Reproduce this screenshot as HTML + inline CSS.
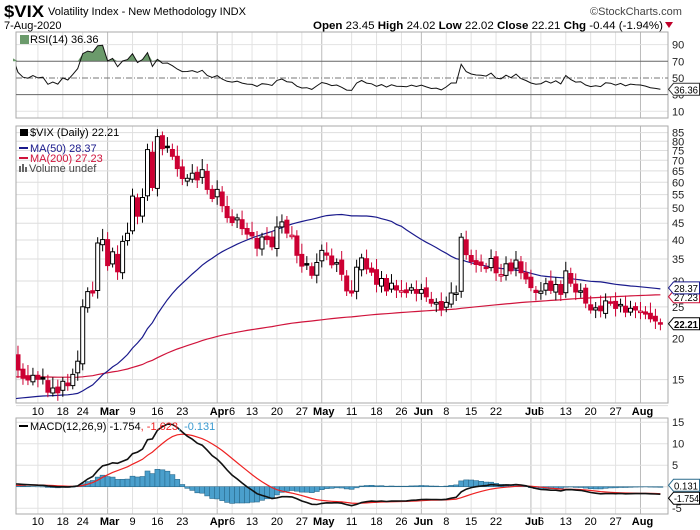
<!DOCTYPE html>
<html><head><meta charset="utf-8">
<style>
body{margin:0;background:#fff;}
svg{display:block;font-family:"Liberation Sans",Arial,sans-serif;}
</style></head>
<body>
<svg id="s" width="700" height="530" xmlns="http://www.w3.org/2000/svg">
<defs>
<clipPath id="cr"><rect x="16" y="32" width="652" height="86"/></clipPath>
<clipPath id="cm"><rect x="16" y="126" width="652" height="277"/></clipPath>
<clipPath id="cd"><rect x="16" y="418" width="652" height="96"/></clipPath>
</defs>
<text x="4" y="17" font-size="17" font-weight="bold" textLength="40" lengthAdjust="spacingAndGlyphs">$VIX</text>
<text x="48" y="15" font-size="11" textLength="198" lengthAdjust="spacingAndGlyphs">Volatility Index - New Methodology  INDX</text>
<text x="590" y="15" font-size="11" fill="#444">©StockCharts.com</text>
<text x="4" y="29" font-size="11">7-Aug-2020</text>
<text x="313" y="29" font-size="11" textLength="350" lengthAdjust="spacingAndGlyphs"><tspan font-weight="bold">Open</tspan> 23.45 <tspan font-weight="bold">High</tspan> 24.02 <tspan font-weight="bold">Low</tspan> 22.02 <tspan font-weight="bold">Close</tspan> 22.21 <tspan font-weight="bold">Chg</tspan> -0.44 (-1.94%)</text>
<path d="M665 22 L673 22 L669 28 Z" fill="#c0002a"/>
<g id="g"></g>
</svg>
<script>
var C=[17.97,16.05,15.15,14.96,15.47,15.04,15.18,13.74,14.15,13.68,14.83,14.38,15.56,17.08,25.03,27.85,27.56,39.16,40.11,
33.42,36.82,31.99,39.62,41.94,54.46,47.30,53.90,75.47,57.83,82.69,75.91,76.45,72.00,66.04,61.59,61.67,63.95,61.00,65.54,57.08,53.54,
57.06,50.91,46.80,45.24,46.70,43.35,41.67,41.17,37.76,40.84,40.11,38.15,43.83,45.41,41.98,41.38,35.93,33.29,33.57,31.23,34.15,
37.19,35.97,33.61,34.12,31.44,27.98,27.57,33.04,35.28,32.61,31.89,29.30,30.53,27.99,29.53,28.16,28.01,27.62,28.59,27.51,
28.23,26.84,25.66,25.81,24.52,25.81,27.57,27.57,40.79,36.09,34.40,33.67,33.47,32.94,35.12,31.77,31.37,33.84,32.22,34.73,31.78,30.43,
28.62,27.68,27.94,29.43,28.08,29.26,27.29,32.19,29.52,27.76,28.00,25.68,24.46,24.84,24.32,26.08,25.84,24.74,25.44,24.10,24.76,24.46,
24.28,23.76,22.99,22.65,22.21];
var N=C.length,g=document.getElementById('g'),h='';
function X(i){return 13+4.98*i;}
function YM(v){return 338.7-142.4*Math.log(v/20);}
function YR(v){return 119.6-0.833*v;}
function YD(v){return 486.7-4.3*v;}
function L(x1,y1,x2,y2,c,w,d){h+='<line x1="'+x1+'" y1="'+y1+'" x2="'+x2+'" y2="'+y2+'" stroke="'+c+'" stroke-width="'+(w||1)+'"'+(d?' stroke-dasharray="'+d+'"':'')+'/>';}
function T(x,y,s,o){h+='<text x="'+x+'" y="'+y+'" font-size="11" '+(o||'')+'>'+s+'</text>';}
function P(pts,c,w,clip){h+='<polyline fill="none" stroke="'+c+'" stroke-width="'+(w||1)+'" clip-path="url(#'+clip+')" points="'+pts.join(' ')+'"/>';}
var panels=[[32,118],[126,403],[418,514]];
var lbl=[[5,'10'],[10,'18'],[14,'24'],[19,'Mar',1],[24,'9'],[29,'16'],[34,'23'],[41,'Apr',1],[44,'6'],[48,'13'],[53,'20'],[58,'27'],[62,'May',1],[68,'11'],[73,'18'],[78,'26'],[82,'Jun',1],[87,'8'],[92,'15'],[97,'22'],[104,'Jul',1],[106,'6'],[111,'13'],[116,'20'],[121,'27'],[126,'Aug',1]];
panels.forEach(function(p){
 lbl.forEach(function(l){L(X(l[0]),p[0],X(l[0]),p[1],l[2]?'#bbb':'#e2e2e2',1);});
});
[90,10].forEach(function(v){L(16,YR(v),668,YR(v),'#e2e2e2');});
for(var v=15;v<=85;v+=5){L(16,YM(v),668,YM(v),'#dedede');}
L(16,YM(12.5),668,YM(12.5),'#dedede');
[15,10,5,0,-5].forEach(function(v){L(16,YD(v),668,YD(v),'#e2e2e2');});
panels.forEach(function(p){h+='<rect x="16" y="'+p[0]+'" width="652" height="'+(p[1]-p[0])+'" fill="none" stroke="#aaa"/>';});
lbl.forEach(function(l){var o='text-anchor="middle"'+(l[2]?' font-weight="bold" font-size="12"':'');T(X(l[0])+(l[2]?2:0),415,l[1],o);T(X(l[0])+(l[2]?2:0),525,l[1],o);});
var ag=0,al=0,rsi=[];var pre=[14.5,14.0,13.8,14.2,13.9,14.3,14.0,14.6,14.1,14.4,14.2,14.9,15.3,16.2,17.0];
var all=pre.concat(C);
for(var i=1;i<all.length;i++){var d=all[i]-all[i-1],gn=d>0?d:0,ls=d<0?-d:0;
 if(i<=14){ag+=gn/14;al+=ls/14;}else{ag=(ag*13+gn)/14;al=(al*13+ls)/14;}
 if(i>=pre.length)rsi.push(100-100/(1+ag/(al||1e-9)));}
var rp=rsi.map(function(r,i){return X(i).toFixed(1)+','+YR(r).toFixed(1);});
var fp='';for(i=0;i<N;i++){fp+=X(i).toFixed(1)+','+Math.min(YR(rsi[i]),YR(70)).toFixed(1)+' ';}
h+='<polygon fill="#6b9a6b" stroke="none" points="'+X(0)+','+YR(70)+' '+fp+X(N-1)+','+YR(70)+'"/>';
L(16,YR(70),668,YR(70),'#666');L(16,YR(30),668,YR(30),'#666');L(16,YR(50),668,YR(50),'#777',1,'6,2,1,2');
P(rp,'#111',1,'cr');
[90,70,50,30,10].forEach(function(v){T(672,YR(v)+4,v,'fill="#222"');});
h+='<rect x="20" y="35" width="9" height="9" fill="#6b9a6b"/>';
T(30,43,'RSI(14) 36.36');
function tag(y,s,c,b){h+='<path d="M668.5 '+y+' l5 -6 h26 v12 h-26 z" fill="#fff" stroke="'+c+'"/>';h+='<text x="674" y="'+(y+4)+'" font-size="10.5" textLength="'+(s.length>5?25:24)+'" lengthAdjust="spacingAndGlyphs" fill="#000"'+(b?' font-weight="bold"':'')+'>'+s+'</text>';}
tag(YR(36.36),'36.36','#333');
var p50=[],p200=[];
var pre2=[];for(i=0;i<200;i++)pre2.push(i<131?15.6:13.0);
var a2=pre2.concat(C);
for(i=0;i<N;i++){var k=i+200,s=0;for(var j=k-49;j<=k;j++)s+=a2[j];var m50=s/50;
 s=0;for(j=k-199;j<=k;j++)s+=a2[j];var m200=s/200;
 p50.push(X(i).toFixed(1)+','+YM(m50).toFixed(1));p200.push([m200]);}
var s0=p200[0][0],s1=p200[N-1][0];
var p2=p200.map(function(m,i){var v=15.3+(m[0]-s0)*(27.23-15.3)/(s1-s0);return X(i).toFixed(1)+','+YM(v).toFixed(1);});
P(p2,'#d0143c',1.2,'cm');P(p50,'#1a1a8c',1.2,'cm');
h+='<g clip-path="url(#cm)">';
for(i=0;i<N;i++){var o=i?C[i-1]*(1+((i*37)%7-3)*0.006):17.2,c=C[i];
 var hi=Math.max(o,c)*(1.03+((i*13)%5)*0.012),lo=Math.min(o,c)*(0.975-((i*7)%4)*0.01);
 var col=(i&&c<C[i-1])?'#cc0033':'#000',x=X(i);
 L(x,YM(hi).toFixed(1),x,YM(lo).toFixed(1),col,1);
 var y1=YM(Math.max(o,c)),y2=YM(Math.min(o,c));if(y2-y1<1.5){y2=y1+1.5;}
 var fill=c>=o?'#fff':col;
 h+='<rect x="'+(x-2).toFixed(1)+'" y="'+y1.toFixed(1)+'" width="4" height="'+(y2-y1).toFixed(1)+'" fill="'+fill+'" stroke="'+col+'" stroke-width="1"/>';}
h+='</g>';
[85,80,75,70,65,60,55,50,45,40,35,30,25,20,15].forEach(function(v){T(672,YM(v)+4,v,'fill="#222"');});
tag(YM(27.23)+2,'27.23','#d0143c');tag(YM(28.37)-1,'28.37','#1a1a8c');tag(YM(22.21),'22.21','#000',1);
h+='<rect x="20" y="129" width="8" height="7" fill="#000"/>';T(30,136,'$VIX (Daily) 22.21');
L(19,148,28,148,'#1a1a8c',2);T(30,152,'MA(50) 28.37','fill="#1a1a8c"');
L(19,158,28,158,'#d0143c',2);T(30,162,'MA(200) 27.23','fill="#d0143c"');
h+='<rect x="19" y="166" width="2" height="6" fill="#666"/><rect x="22" y="164" width="2" height="8" fill="#666"/><rect x="25" y="167" width="2" height="5" fill="#666"/>';
T(29,172,'Volume undef','fill="#444"');
var e12=14.2,e26=14.2,sig=0,mac=[],sg=[];
for(i=0;i<pre.length;i++){e12+=(pre[i]-e12)*2/13;e26+=(pre[i]-e26)*2/27;sig+=((e12-e26)-sig)*0.2;}
for(i=0;i<N;i++){e12+=(C[i]-e12)*2/13;e26+=(C[i]-e26)*2/27;var m=e12-e26;sig+=(m-sig)*0.2;mac.push(m);sg.push(sig);}
h+='<g clip-path="url(#cd)">';
for(i=0;i<N;i++){var hv=mac[i]-sg[i];var ya=YD(0),yb=YD(hv);
 h+='<rect x="'+(X(i)-2.5).toFixed(1)+'" y="'+Math.min(ya,yb).toFixed(1)+'" width="5" height="'+Math.abs(ya-yb).toFixed(1)+'" fill="#4a9fcc" stroke="#2a6a8c" stroke-width="0.6"/>';}
h+='</g>';
P(sg.map(function(v,i){return X(i).toFixed(1)+','+YD(v).toFixed(1);}),'#ee2222',1.2,'cd');
P(mac.map(function(v,i){return X(i).toFixed(1)+','+YD(v).toFixed(1);}),'#111',1.6,'cd');
[15,10,5,-5].forEach(function(v){T(672,YD(v)+4,v,'fill="#222"');});
tag(YD(-0.131)-2,'0.131','#2a6a8c');tag(YD(-1.754)+4,'-1.754','#000');
L(19,426,28,426,'#000',2);
h+='<text x="30" y="430" font-size="11">MACD(12,26,9) -1.754<tspan fill="#ee2222">, -1.623</tspan><tspan fill="#3a9ad0">, -0.131</tspan></text>';
g.innerHTML=h;
</script>
</body></html>
